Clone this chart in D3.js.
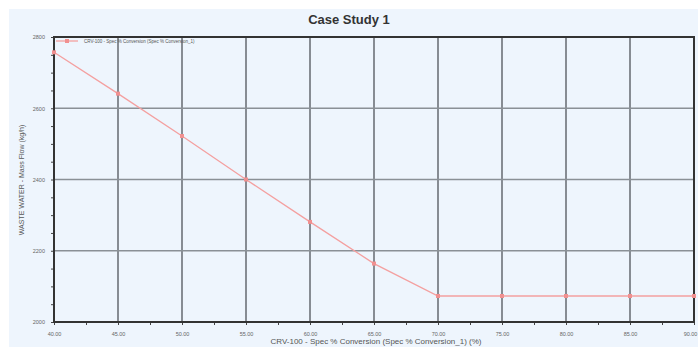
<!DOCTYPE html>
<html>
<head>
<meta charset="utf-8">
<script src="https://cdn.jsdelivr.net/npm/d3@7"></script>
<style>
  body { margin: 0; background: #fff; }
  svg { display: block; font-family: "Liberation Sans", Arial, sans-serif; }
</style>
</head>
<body>
<svg width="698" height="347"></svg>
<script>
// Data
const conversion = [40, 45, 50, 55, 60, 65, 70, 75, 80, 85, 90]
const massFlow = [2757, 2641, 2522, 2400, 2281, 2164, 2073, 2073, 2073, 2073, 2073]
const xTicks = [40, 45, 50, 55, 60, 65, 70, 75, 80, 85, 90]
const yTicks = [2000, 2200, 2400, 2600, 2800]
const seriesName = 'CRV-100 - Spec % Conversion (Spec % Conversion_1)'

const svg = d3.select('svg')
const margin = {top: 37, right: 4, bottom: 25, left: 54}
const width = 698 - margin.left - margin.right
const height = 347 - margin.top - margin.bottom

// light blue panel behind everything
svg.append('rect')
  .attr('x', 9).attr('y', 9)
  .attr('width', 689).attr('height', 338)
  .attr('fill', '#eef5fd')

svg.append('text')
  .attr('x', 349).attr('y', 24)
  .attr('text-anchor', 'middle')
  .attr('font-size', 13).attr('font-weight', 'bold')
  .attr('fill', '#333')
  .text('Case Study 1')

const group = svg.append('g')
  .attr('transform', 'translate(' + margin.left + ',' + margin.top + ')')

const x = d3.scaleLinear().domain([40, 90]).range([0, width])
const y = d3.scaleLinear().domain([2000, 2800]).range([height, 0])

//Grid lines
group.append('g')
  .selectAll('line')
  .data(xTicks)
  .join('line')
    .attr('x1', d => x(d)).attr('x2', d => x(d))
    .attr('y1', 0).attr('y2', height)
    .attr('stroke', '#6d7278').attr('stroke-width', 1.6)

group.append('g')
  .selectAll('line')
  .data(yTicks)
  .join('line')
    .attr('x1', 0).attr('x2', width)
    .attr('y1', d => y(d)).attr('y2', d => y(d))
    .attr('stroke', '#8a9096').attr('stroke-width', 1.6)

//Axes with minor ticks
const xAxis = group.append('g')
  .attr('transform', 'translate(0,' + height + ')')
  .call(d3.axisBottom(x).tickValues(d3.range(40, 90.1, 2.5)).tickSize(3)
    .tickFormat(d => xTicks.includes(d) ? d.toFixed(2) : ''))
xAxis.selectAll('text').attr('font-size', 5.5).attr('fill', '#666').attr('dy', 8)
//last label would spill over the right edge
xAxis.selectAll('text').filter(d => d === 90).attr('dx', -4)

const yAxis = group.append('g')
  .call(d3.axisLeft(y).tickValues(d3.range(2000, 2801, 50)).tickSize(3)
    .tickFormat(d => yTicks.includes(d) ? d : ''))
yAxis.selectAll('text').attr('font-size', 5.5).attr('fill', '#666').attr('dx', -3)
svg.selectAll('.domain').remove()
svg.selectAll('.tick line').attr('stroke', '#444')

// Frame
group.append('rect')
  .attr('width', width).attr('height', height)
  .attr('fill', 'none').attr('stroke', '#333').attr('stroke-width', 2)

// Series line
const line = d3.line()
  .x((d, i) => x(conversion[i]))
  .y(d => y(d))

group.append('path')
  .datum(massFlow)
  .attr('d', line)
  .attr('fill', 'none')
  .attr('stroke', '#f4a0a0').attr('stroke-width', 1.3)

group.selectAll('.pt')
  .data(massFlow)
  .join('rect')
    .attr('class', 'pt')
    .attr('x', (d, i) => x(conversion[i]) - 2)
    .attr('y', d => y(d) - 2)
    .attr('width', 4).attr('height', 4)
    .attr('fill', '#f19090')

// Legend
const legend = group.append('g').attr('transform', 'translate(2,4)')
legend.append('line')
  .attr('x1', 0).attr('x2', 22).attr('y1', 0).attr('y2', 0)
  .attr('stroke', '#f4a0a0').attr('stroke-width', 1.3)
legend.append('rect')
  .attr('x', 9).attr('y', -2).attr('width', 4).attr('height', 4)
  .attr('fill', '#f19090')
legend.append('text')
  .attr('x', 28).attr('y', 2)
  .attr('font-size', 4.5).attr('fill', '#555')
  .text(seriesName)

// Axis titles
svg.append('text')
  .attr('x', 376).attr('y', 344)
  .attr('text-anchor', 'middle')
  .attr('font-size', 8).attr('fill', '#555')
  .text('CRV-100 - Spec % Conversion (Spec % Conversion_1) (%)')

svg.append('text')
  .attr('transform', 'translate(24,180) rotate(-90)')
  .attr('text-anchor', 'middle')
  .attr('font-size', 7).attr('fill', '#555')
  .text('WASTE WATER - Mass Flow (kg/h)')
</script>
</body>
</html>
